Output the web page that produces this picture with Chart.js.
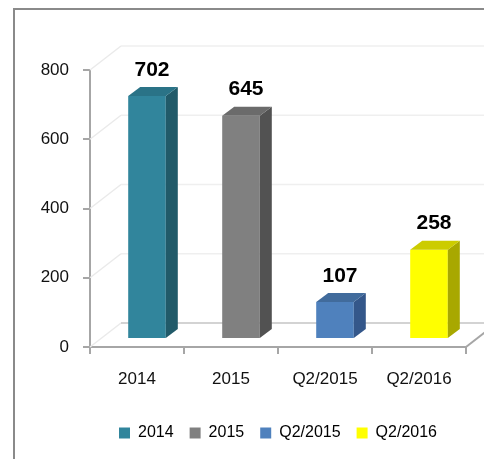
<!DOCTYPE html>
<html>
<head>
<meta charset="utf-8">
<script src="https://cdn.jsdelivr.net/npm/chart.js@4.4.1/dist/chart.umd.min.js"></script>
<style>
  html, body { margin: 0; padding: 0; background: #fff; overflow: hidden; }
  #wrap { position: relative; width: 484px; height: 459px; }
</style>
</head>
<body>
<div id="wrap"><canvas id="chart"></canvas></div>
<script>
// data
const labels = ["2014", "2015", "Q2/2015", "Q2/2016"];
const values = [702, 645, 107, 258];
const yTicks = [0, 200, 400, 600, 800];

// colours for the three faces of each bar
const frontColors = ["#31859c", "#808080", "#4f81bd", "#ffff00"];
const topColors = ["#2a7387", "#6b6b6b", "#416b9c", "#cccc00"];
const sideColors = ["#215a69", "#525252", "#34578a", "#a8a800"];

const FONT = "'Liberation Sans', Arial, sans-serif";
const BAR_DX = 12, BAR_DY = -9;      // bar depth
const SHIFT_X = 10, SHIFT_Y = -8;    // bars sit in the middle of the floor
const WALL_DX = 31, WALL_DY = -24;   // back wall offset

function line(ctx, x1, y1, x2, y2) {
  ctx.beginPath();
  ctx.moveTo(x1, y1);
  ctx.lineTo(x2, y2);
  ctx.stroke();
}

const threeD = {
  id: "threeD",
  beforeDraw(chart) {
    const ctx = chart.ctx;
    ctx.save();
    ctx.strokeStyle = "#8a8a8a";
    ctx.lineWidth = 2;
    ctx.strokeRect(14, 9, 700, 700);
    ctx.restore();
  },
  beforeDatasetsDraw(chart) {
    const { ctx, chartArea: a, scales: { y } } = chart;
    ctx.save();
    ctx.lineWidth = 1.5;
    yTicks.forEach((v) => {
      const py = y.getPixelForValue(v);
      ctx.strokeStyle = "#eaeaea";
      line(ctx, a.left, py, a.left + WALL_DX, py + WALL_DY);
      ctx.strokeStyle = v === 0 ? "#c4c4c4" : "#efefef";
      line(ctx, a.left + WALL_DX, py + WALL_DY, a.right + WALL_DX, py + WALL_DY);
    });
    ctx.strokeStyle = "#a6a6a6";
    ctx.lineWidth = 2;
    line(ctx, a.right, a.bottom, a.right + WALL_DX, a.bottom + WALL_DY);
    ctx.restore();

    ctx.save();
    ctx.translate(SHIFT_X, SHIFT_Y);
  },
  afterDatasetsDraw(chart) {
    const ctx = chart.ctx;
    const meta = chart.getDatasetMeta(0);
    meta.data.forEach((bar, i) => {
      const { x, y, base, width } = bar.getProps(["x", "y", "base", "width"], true);
      const l = x - width / 2, r = x + width / 2;
      ctx.fillStyle = sideColors[i];
      ctx.beginPath();
      ctx.moveTo(r, y);
      ctx.lineTo(r + BAR_DX, y + BAR_DY);
      ctx.lineTo(r + BAR_DX, base + BAR_DY);
      ctx.lineTo(r, base);
      ctx.closePath();
      ctx.fill();
      ctx.fillStyle = topColors[i];
      ctx.beginPath();
      ctx.moveTo(l, y);
      ctx.lineTo(l + BAR_DX, y + BAR_DY);
      ctx.lineTo(r + BAR_DX, y + BAR_DY);
      ctx.lineTo(r, y);
      ctx.closePath();
      ctx.fill();
    });
    ctx.restore();

    // value labels
    ctx.save();
    ctx.font = "bold 21px " + FONT;
    ctx.fillStyle = "#000";
    ctx.textAlign = "center";
    ctx.textBaseline = "middle";
    meta.data.forEach((bar, i) => {
      ctx.fillText(String(values[i]), bar.x + SHIFT_X + 5, bar.y + SHIFT_Y - 26);
    });
    ctx.restore();
  }
};

new Chart(document.getElementById("chart"), {
  type: "bar",
  data: {
    labels: labels,
    datasets: [
      {
        data: values,
        backgroundColor: frontColors,
        borderWidth: 0,
        barPercentage: 0.4,
        categoryPercentage: 1,
        clip: false,
      },
    ],
  },
  options: {
    responsive: true,
    maintainAspectRatio: false,
    animation: false,
    events: [],
    layout: { padding: { top: 70, right: 18, left: 0, bottom: 8 } },
    scales: {
      x: {
        grid: { drawOnChartArea: false, offset: true, tickLength: 7, color: "#a6a6a6", lineWidth: 2 },
        border: { color: "#a6a6a6", width: 2 },
        ticks: { color: "#111", font: { family: FONT, size: 17 }, padding: 15 },
        afterFit(scale) { scale.height = 62; },
      },
      y: {
        min: 0,
        max: 800,
        grid: { drawOnChartArea: false, tickLength: 7, color: "#a6a6a6", lineWidth: 2 },
        border: { color: "#a6a6a6", width: 2 },
        ticks: { color: "#111", font: { family: FONT, size: 17 }, padding: 14 },
        afterBuildTicks(scale) { scale.ticks = yTicks.map((v) => ({ value: v })); },
        afterFit(scale) { scale.width = 90; },
      },
    },
    plugins: {
      tooltip: { enabled: false },
      legend: {
        position: "bottom",
        fullSize: false,
        labels: {
          boxWidth: 11,
          boxHeight: 11,
          padding: 16,
          color: "#111",
          font: { family: FONT, size: 16 },
          generateLabels: () =>
            labels.map((t, i) => ({
              text: t,
              fillStyle: frontColors[i],
              strokeStyle: frontColors[i],
              lineWidth: 0,
              index: i,
            })),
        },
      },
    },
  },
  plugins: [threeD],
});
</script>
</body>
</html>
